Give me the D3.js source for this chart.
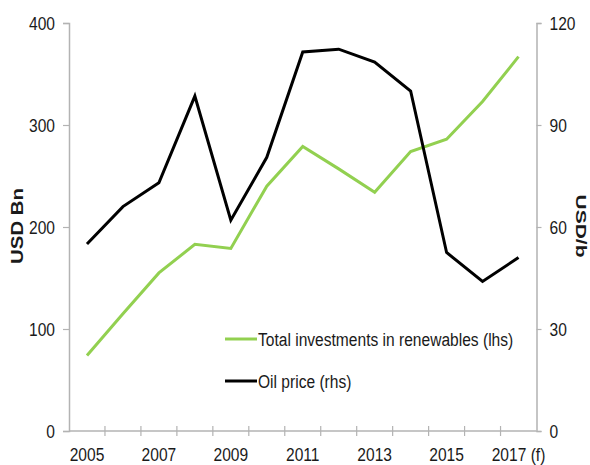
<!DOCTYPE html>
<html>
<head>
<meta charset="utf-8">
<script src="https://cdnjs.cloudflare.com/ajax/libs/d3/7.8.5/d3.min.js"></script>
<style>
  body { margin: 0; background: #fff; }
  text { font-family: "Liberation Sans", Arial, sans-serif; fill: #1a1a1a; }
  .squash { transform-box: fill-box; }
</style>
</head>
<body>
<svg width="590" height="465"></svg>
<script>
// data
var years = ["2005","2006","2007","2008","2009","2010","2011","2012","2013","2014","2015","2016","2017 (f)"];
var renewables = [74, 115, 155, 183, 179, 240, 279, 257, 234, 274, 286, 323, 367]; // USD Bn, lhs
var oilPrice = [55, 66, 73, 98.5, 62, 80.5, 111.5, 112.3, 108.5, 100, 52.5, 44, 51]; // USD/b, rhs
var leftTicks = [0, 100, 200, 300, 400];
var rightTicks = [0, 30, 60, 90, 120];

var svg = d3.select("svg");
var plotL = 69, plotR = 536.5, plotT = 23, plotB = 431;
var fs = "19px";
var sx = 0.82; // the original picture looks squeezed sideways

var x = d3.scaleBand().domain(years).range([plotL, plotR]).padding(0);
var yL = d3.scaleLinear().domain([0, 400]).range([plotB, plotT]);
var yR = d3.scaleLinear().domain([0, 120]).range([plotB, plotT]);

function squash(sel, origin) {
  sel.attr("class", "squash")
    .style("transform-origin", origin)
    .style("transform", "scaleX(" + sx + ")");
}

// left axis
var gL = svg.append("g").attr("transform", "translate(" + plotL + ",0)")
  .call(d3.axisLeft(yL).tickValues(leftTicks).tickSize(6).tickPadding(8));
gL.selectAll("text").style("font-size", fs).call(squash, "right center");

// right axis
var gR = svg.append("g").attr("transform", "translate(" + plotR + ",0)")
  .call(d3.axisRight(yR).tickValues(rightTicks).tickSize(5).tickPadding(8));
gR.selectAll("text").style("font-size", fs).call(squash, "left center");

// bottom axis: labels every other year, ticks on band edges
var gB = svg.append("g").attr("transform", "translate(0," + plotB + ")")
  .call(d3.axisBottom(x).tickValues(years.filter(function(d, i){ return i % 2 == 0; }))
    .tickSize(0).tickPadding(17));
gB.selectAll("text").style("font-size", fs).call(squash, "center");
gB.select(".domain").remove();
svg.append("line").attr("x1", plotL).attr("x2", plotR).attr("y1", plotB).attr("y2", plotB)
  .attr("stroke", "#b3b3b3").attr("stroke-width", 1.5);
svg.selectAll(".xtick").data(years.slice(1)).enter().append("line")
  .attr("x1", function(d){ return x(d); }).attr("x2", function(d){ return x(d); })
  .attr("y1", plotB - 5).attr("y2", plotB + 5)
  .attr("stroke", "#b3b3b3").attr("stroke-width", 1.2);

svg.selectAll(".domain").attr("stroke", "#b3b3b3").attr("stroke-width", 1.5);
svg.selectAll(".tick line").attr("stroke", "#b3b3b3").attr("stroke-width", 1.2);

// axis titles
svg.append("g").attr("transform", "translate(17,226) rotate(-90)")
  .append("text").attr("text-anchor", "middle").attr("dy", "0.36em")
  .style("font-size", "17px").style("font-weight", "bold")
  .style("transform-box", "fill-box").style("transform-origin", "center")
  .style("transform", "scaleX(1.2)")
  .text("USD Bn");
svg.append("g").attr("transform", "translate(581,226) rotate(90)")
  .append("text").attr("text-anchor", "middle").attr("dy", "0.36em")
  .style("font-size", "15px").style("font-weight", "bold")
  .style("transform-box", "fill-box").style("transform-origin", "center")
  .style("transform", "scaleX(1.4)")
  .text("USD/b");

// lines
var cx = function(d, i){ return x(years[i]) + x.bandwidth() / 2; };
svg.append("path").datum(renewables)
  .attr("fill", "none").attr("stroke", "#92d050").attr("stroke-width", 3)
  .attr("d", d3.line().x(cx).y(function(d){ return yL(d); }));
svg.append("path").datum(oilPrice)
  .attr("fill", "none").attr("stroke", "#000").attr("stroke-width", 3)
  .attr("d", d3.line().x(cx).y(function(d){ return yR(d); }));

// legend
var legend = [
  {name: "Total investments in renewables (lhs)", color: "#92d050", y: 339},
  {name: "Oil price (rhs)", color: "#000", y: 381}
];
var lg = svg.selectAll(".lg").data(legend).enter().append("g");
lg.append("line").attr("x1", 225).attr("x2", 257)
  .attr("y1", function(d){ return d.y; }).attr("y2", function(d){ return d.y; })
  .attr("stroke", function(d){ return d.color; }).attr("stroke-width", 3);
lg.append("text").attr("x", 258).attr("y", function(d){ return d.y; }).attr("dy", "0.36em")
  .style("font-size", fs).text(function(d){ return d.name; })
  .call(squash, "left center");
</script>
</body>
</html>
